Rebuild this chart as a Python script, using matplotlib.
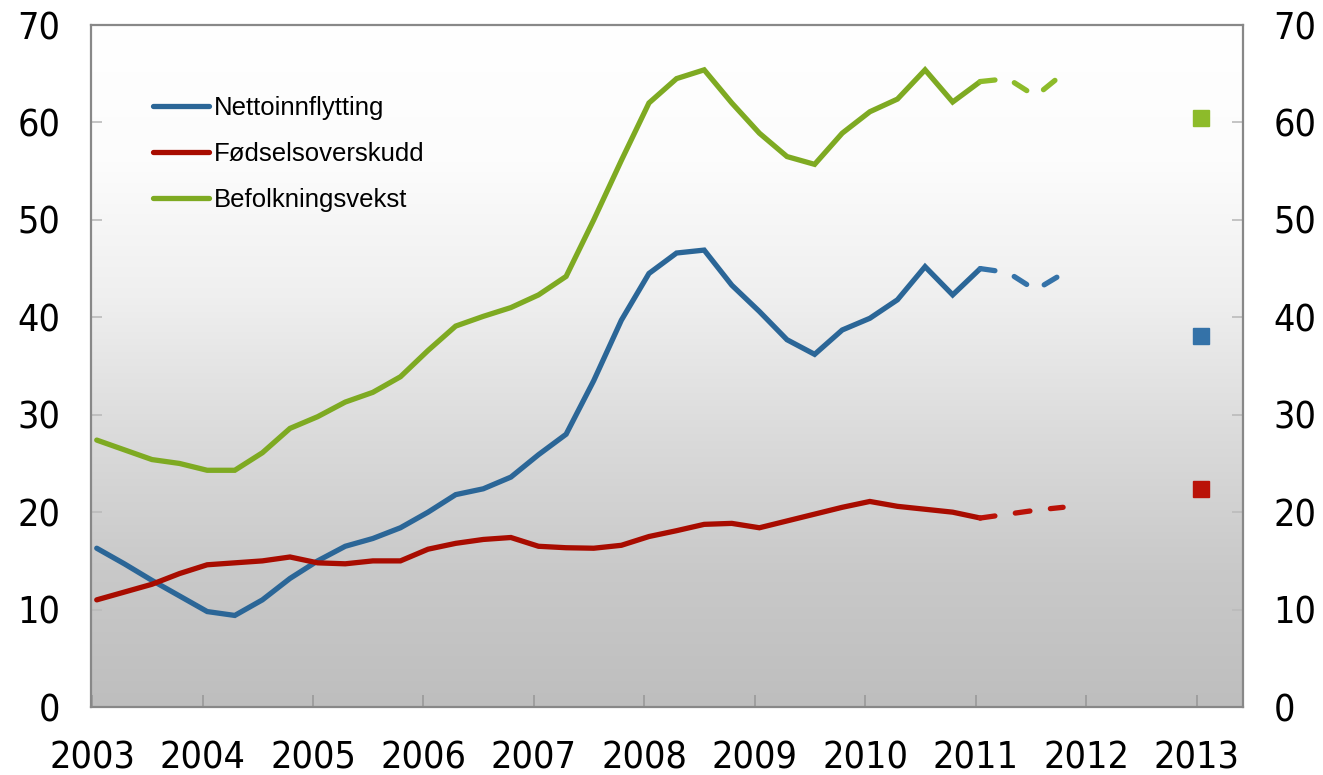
import numpy as np
import matplotlib
matplotlib.use('Agg')
import matplotlib.pyplot as plt
from matplotlib.colors import LinearSegmentedColormap

# Quarterly data, 2003 Q1 - 2011 Q1 (solid)
netto = [16.3, 14.7, 13.0, 11.4, 9.8, 9.4, 11.0, 13.2, 15.0, 16.5, 17.3, 18.4,
         20.0, 21.8, 22.4, 23.6, 25.9, 28.0, 33.5, 39.7, 44.5, 46.6, 46.9, 43.3,
         40.6, 37.7, 36.2, 38.7, 39.9, 41.8, 45.2, 42.3, 45.0]
fodsel = [11.0, 11.8, 12.6, 13.7, 14.6, 14.8, 15.0, 15.4, 14.8, 14.7, 15.0, 15.0,
          16.2, 16.8, 17.2, 17.4, 16.5, 16.35, 16.3, 16.6, 17.5, 18.1, 18.75, 18.85,
          18.4, 19.1, 19.8, 20.5, 21.1, 20.6, 20.3, 20.0, 19.4]
befolk = [27.4, 26.4, 25.4, 25.0, 24.3, 24.3, 26.1, 28.6, 29.8, 31.3, 32.3, 33.9,
          36.6, 39.1, 40.1, 41.0, 42.3, 44.2, 50.0, 56.1, 62.0, 64.5, 65.4, 62.0,
          58.9, 56.5, 55.7, 58.9, 61.1, 62.4, 65.4, 62.1, 64.2]

# 2011 Q1 - 2011 Q4 (dashed)
netto_2011 = [45.0, 44.6, 42.8, 44.5]
fodsel_2011 = [19.4, 19.8, 20.2, 20.5]
befolk_2011 = [64.2, 64.5, 62.7, 65.0]

# 2013 (squares)
netto_2013 = 38.1
fodsel_2013 = 22.4
befolk_2013 = 60.5

labels = ['Nettoinnflytting', 'Fødselsoverskudd', 'Befolkningsvekst']
years = list(range(2003, 2014))

# mid of first month in each quarter
x = 2003 + (np.arange(len(netto)) * 3 + 0.5) / 12
x_2011 = 2011 + (np.arange(len(netto_2011)) * 3 + 0.5) / 12
x_2013 = 2013 + 0.5 / 12

c_blue, c_red, c_green = '#2B6697', '#A80C00', '#7EAA22'
c_blue2, c_red2, c_green2 = '#3472A8', '#BA1208', '#8DBB2A'

plt.rcParams['font.family'] = ['DejaVu Sans']
plt.rcParams['font.stretch'] = 'condensed'

fig = plt.figure(figsize=(13.23, 7.75), dpi=100)
ax = fig.add_axes([0.0688, 0.0877, 0.8707, 0.88])

# gradient background
cmap = LinearSegmentedColormap.from_list('bg', [(0, '#FFFFFF'), (0.2, '#FCFCFC'),
                                               (0.4, '#EFEFEF'), (0.6, '#DBDBDB'),
                                               (0.8, '#C9C9C9'), (1.0, '#BEBEBE')])
grad = np.linspace(0, 1, 256).reshape(-1, 1)
ax.imshow(grad, cmap=cmap, aspect='auto', extent=[0, 1, 0, 1],
          transform=ax.transAxes, zorder=0)

lw = 3.8
h1, = ax.plot(x, netto, color=c_blue, lw=lw, solid_capstyle='round', solid_joinstyle='miter', zorder=3)
h2, = ax.plot(x, fodsel, color=c_red, lw=lw, solid_capstyle='round', solid_joinstyle='miter', zorder=3)
h3, = ax.plot(x, befolk, color=c_green, lw=lw, solid_capstyle='round', solid_joinstyle='miter', zorder=3)

for vals, c in [(netto_2011, c_blue2), (fodsel_2011, c_red2), (befolk_2011, c_green2)]:
    ax.plot(x_2011, vals, color=c, lw=lw, linestyle=(0, (2.8, 3.9)),
            dash_capstyle='round', zorder=4)

for v, c in [(netto_2013, c_blue2), (fodsel_2013, c_red2), (befolk_2013, c_green2)]:
    ax.plot([x_2013], [v], marker='s', markersize=12, color=c, linestyle='none', zorder=4)

ax.set_xlim(2002.99, 2013.42)
ax.set_ylim(0, 70)
ax.set_xticks(years)
ax.set_xticklabels([str(y) for y in years])
ax.set_yticks(range(0, 71, 10))

for s in ax.spines.values():
    s.set_color('#888888')
    s.set_linewidth(1.6)

ax.tick_params(axis='x', direction='in', length=9, width=1.2, color='#999999',
               labelsize=27, pad=24)
ax.tick_params(axis='y', which='both', direction='in', length=8, width=1.2,
               color='#BBBBBB', labelsize=27, pad=22, left=True, right=True,
               labelleft=True, labelright=True)
for t in ax.yaxis.get_ticklines()[1::2]:
    t.set_color('#888888')

leg = ax.legend([h1, h2, h3], labels, loc='upper left', bbox_to_anchor=(0.0425, 0.915),
                frameon=False, handlelength=2.2, handletextpad=0.18, labelspacing=0.85,
                borderpad=0, prop={'family': 'Liberation Sans', 'size': 18.5,
                                   'stretch': 'normal'})

fig.savefig('out.png', dpi=100)
